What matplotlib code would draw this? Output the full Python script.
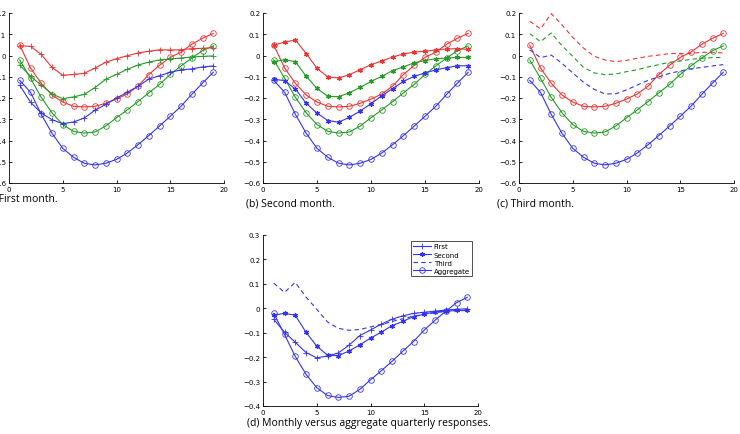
import matplotlib.pyplot as plt

x = list(range(1, 20))

# aggregate quarterly responses (same in panels a-c)
agg_red = [0.049, -0.059, -0.131, -0.186, -0.219, -0.239, -0.242, -0.239, -0.225, -0.205,
           -0.181, -0.144, -0.090, -0.046, -0.009, 0.016, 0.053, 0.081, 0.104]
agg_green = [-0.021, -0.107, -0.197, -0.270, -0.325, -0.357, -0.365, -0.360, -0.332, -0.293,
             -0.256, -0.217, -0.176, -0.136, -0.089, -0.049, -0.012, 0.023, 0.045]
agg_blue = [-0.117, -0.173, -0.277, -0.366, -0.437, -0.479, -0.507, -0.515, -0.507, -0.489,
            -0.459, -0.420, -0.377, -0.332, -0.286, -0.239, -0.183, -0.130, -0.079]

# first month
m1_red = [0.046, 0.043, 0.005, -0.056, -0.093, -0.089, -0.084, -0.059, -0.032, -0.015,
          -0.001, 0.012, 0.020, 0.027, 0.026, 0.027, 0.032, 0.034, 0.037]
m1_green = [-0.045, -0.098, -0.139, -0.181, -0.203, -0.195, -0.183, -0.151, -0.112, -0.089,
            -0.065, -0.045, -0.031, -0.021, -0.016, -0.012, -0.007, -0.004, -0.002]
m1_blue = [-0.140, -0.220, -0.271, -0.302, -0.321, -0.313, -0.294, -0.258, -0.230, -0.200,
           -0.173, -0.145, -0.111, -0.095, -0.079, -0.068, -0.063, -0.054, -0.049]

# second month
m2_red = [0.049, 0.063, 0.073, 0.009, -0.060, -0.101, -0.106, -0.090, -0.067, -0.043,
          -0.026, -0.007, 0.007, 0.016, 0.020, 0.026, 0.031, 0.032, 0.029]
m2_green = [-0.029, -0.020, -0.029, -0.098, -0.155, -0.192, -0.194, -0.175, -0.150, -0.122,
            -0.098, -0.071, -0.054, -0.034, -0.024, -0.015, -0.012, -0.009, -0.009]
m2_blue = [-0.112, -0.118, -0.158, -0.225, -0.271, -0.306, -0.314, -0.291, -0.261, -0.227,
           -0.189, -0.156, -0.122, -0.098, -0.082, -0.068, -0.057, -0.049, -0.048]

# third month
m3_red = [0.161, 0.125, 0.197, 0.144, 0.085, 0.035, -0.004, -0.021, -0.029, -0.023,
          -0.013, -0.004, 0.002, 0.009, 0.010, 0.010, 0.015, 0.015, 0.012]
m3_green = [0.103, 0.065, 0.106, 0.046, -0.004, -0.056, -0.082, -0.090, -0.087, -0.076,
            -0.067, -0.054, -0.043, -0.032, -0.026, -0.018, -0.013, -0.010, -0.009]
m3_blue = [0.027, -0.010, 0.002, -0.037, -0.082, -0.126, -0.159, -0.181, -0.180, -0.162,
           -0.139, -0.117, -0.100, -0.084, -0.073, -0.063, -0.056, -0.049, -0.043]

RED, GREEN, BLUE = '#ec3434', '#259a25', '#3434f0'
W, H = 740, 435
ast = (6, 2, 0)

fig = plt.figure(figsize=(7.4, 4.35), dpi=100)


def make_ax(l, r, t, b):
    ax = fig.add_axes([l / W, 1 - b / H, (r - l) / W, (b - t) / H])
    for s in ['top', 'right']:
        ax.spines[s].set_visible(False)
    for s in ['left', 'bottom']:
        ax.spines[s].set_linewidth(0.6)
    ax.tick_params(direction='in', length=2, width=0.6, labelsize=5, pad=2)
    ax.set_xlim(0, 20)
    ax.set_xticks([0, 5, 10, 15, 20])
    return ax


def yfmt(v):
    s = '%g' % round(v, 2)
    return s.replace('-', '\u2212')


def agg(ax):
    for ys, c in [(agg_red, RED), (agg_green, GREEN), (agg_blue, BLUE)]:
        ax.plot(x, ys, color=c, lw=0.8, marker='o', ms=4, mfc='none', mew=0.6)


yt = [-0.6, -0.5, -0.4, -0.3, -0.2, -0.1, 0, 0.1, 0.2]

# (a)
ax = make_ax(9, 224, 14, 184)
agg(ax)
for ys, c in [(m1_red, RED), (m1_green, GREEN), (m1_blue, BLUE)]:
    ax.plot(x, ys, color=c, lw=0.8, marker='+', ms=4, mew=0.6)
ax.set_ylim(-0.6, 0.2)
ax.set_yticks(yt)
ax.set_yticklabels([yfmt(v) for v in yt])

# (b)
ax = make_ax(263, 479, 14, 184)
agg(ax)
for ys, c in [(m2_red, RED), (m2_green, GREEN), (m2_blue, BLUE)]:
    ax.plot(x, ys, color=c, lw=0.8, marker=ast, ms=3.5, mew=0.9)
ax.set_ylim(-0.6, 0.2)
ax.set_yticks(yt)
ax.set_yticklabels([yfmt(v) for v in yt])

# (c)
ax = make_ax(519, 734, 14, 184)
agg(ax)
for ys, c in [(m3_red, RED), (m3_green, GREEN), (m3_blue, BLUE)]:
    ax.plot(x, ys, color=c, lw=0.8, ls=(0, (4, 3)))
ax.set_ylim(-0.6, 0.2)
ax.set_yticks(yt)
ax.set_yticklabels([yfmt(v) for v in yt])

# (d)
ax = make_ax(263, 478, 236, 407)
ax.plot(x, m1_green, color=BLUE, lw=0.8, marker='+', ms=4, mew=0.6, label='First')
ax.plot(x, m2_green, color=BLUE, lw=0.8, marker=ast, ms=3.5, mew=0.9, label='Second')
ax.plot(x, m3_green, color=BLUE, lw=0.8, ls=(0, (4, 3)), label='Third')
ax.plot(x, agg_green, color=BLUE, lw=0.8, marker='o', ms=4, mfc='none', mew=0.6,
        label='Aggregate')
ax.set_ylim(-0.4, 0.3)
ytd = [-0.4, -0.3, -0.2, -0.1, 0, 0.1, 0.2, 0.3]
ax.set_yticks(ytd)
ax.set_yticklabels([yfmt(v) for v in ytd])
leg = ax.legend(loc='upper right', bbox_to_anchor=(0.99, 0.985), fontsize=5,
                frameon=True, fancybox=False, edgecolor='black', handlelength=2.6,
                borderpad=0.35, labelspacing=0.3, handletextpad=0.4)
leg.get_frame().set_linewidth(0.6)

cap = dict(fontsize=7.5, family='Open Sans', va='center')
fig.text(-16 / W, 1 - 199 / H, '(a) First month.', **cap)
fig.text(246 / W, 1 - 204 / H, '(b) Second month.', **cap)
fig.text(497 / W, 1 - 204 / H, '(c) Third month.', **cap)
fig.text(369 / W, 1 - 424 / H, '(d) Monthly versus aggregate quarterly responses.',
         ha='center', **cap)

fig.savefig('out.png', dpi=100)
